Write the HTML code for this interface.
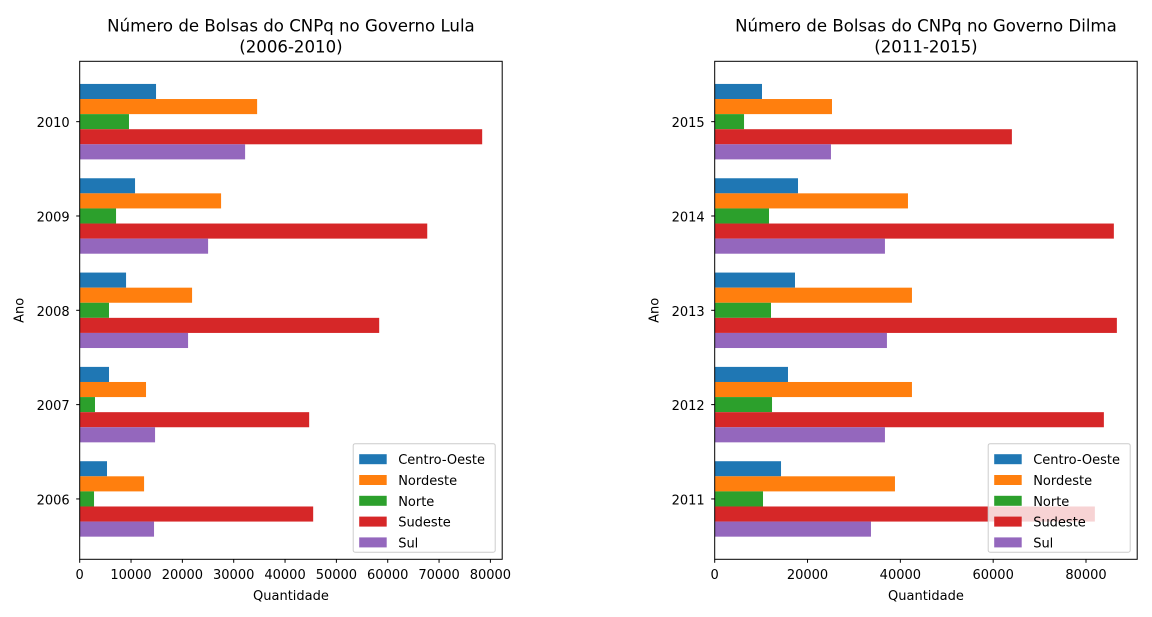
<!DOCTYPE html>
<html><head><meta charset="utf-8"><style>
body{margin:0;background:#fff}
svg{display:block;font-family:"DejaVu Sans","Liberation Sans",sans-serif}
</style></head><body>
<svg id="fig" width="1152" height="617" viewBox="0 0 1152 617"></svg>
<script>
const regions = ["Centro-Oeste","Nordeste","Norte","Sudeste","Sul"];
const colors = ["#1f77b4","#ff7f0e","#2ca02c","#d62728","#9467bd"];
const yearsLula = ["2006","2007","2008","2009","2010"];
const lulaCO = [5320,5710,9030,10780,14870];
const lulaNE = [12540,12920,21890,27540,34560];
const lulaN  = [2790,2980,5710,7080,9600];
const lulaSE = [45480,44700,58340,67700,78400];
const lulaSul= [14480,14680,21110,25010,32220];
const yearsDilma = ["2011","2012","2013","2014","2015"];
const dilmaCO = [14290,15790,17300,17950,10190];
const dilmaNE = [38840,42500,42500,41640,25270];
const dilmaN  = [10410,12350,12130,11700,6320];
const dilmaSE = [81910,83850,86650,86000,64030];
const dilmaSul= [33670,36680,37110,36680,25050];
const lulaTicks = [0,10000,20000,30000,40000,50000,60000,70000,80000];
const dilmaTicks = [0,20000,40000,60000,80000];

const NS="http://www.w3.org/2000/svg";
const svg=document.getElementById('fig');
const FS=13;
function mk(tag,attrs,parent,text){const e=document.createElementNS(NS,tag);for(const k in attrs)e.setAttribute(k,attrs[k]);if(text!==undefined)e.textContent=text;(parent||svg).appendChild(e);return e;}

function panel(opts){
  const L=opts.left,T=61.3,W=422.5,H=498,xmax=opts.xmax;
  const g=mk('g',{});
  
  
  const xs=v=>L+v/xmax*W;
  const ymin=-0.64,ymax=4.64;
  const ys=v=>T+(ymax-v)/(ymax-ymin)*H;
  const bw=0.16;
  const series=opts.series;
  for(let s=0;s<series.length;s++){
    for(let i=0;i<opts.years.length;i++){
      const c=i+(2-s)*bw;
      const r=mk('rect',{x:xs(0),y:ys(c+bw/2),width:xs(series[s][i])-xs(0),height:ys(c-bw/2)-ys(c+bw/2),fill:colors[s]},g);
      
      
    }
  }
  const fr=mk('rect',{x:L,y:T,width:W,height:H,fill:'none',stroke:'#000','stroke-width':1},g);
  
  
  opts.ticks.forEach(t=>{
    const x=xs(t);
    mk('line',{x1:x,x2:x,y1:T+H,y2:T+H+3.5,stroke:'#000'},g);
    const tl=mk('text',{x:x,y:T+H+19.5,'text-anchor':'middle','font-size':FS,fill:'#000'},g,String(t));
    
    
  });
  opts.years.forEach((yr,i)=>{
    const y=ys(i);
    mk('line',{x1:L-3.5,x2:L,y1:y,y2:y,stroke:'#000'},g);
    const tl=mk('text',{x:L-10,y:y+5.5,'text-anchor':'end','font-size':FS,fill:'#000'},g,yr);
    
    
  });
  const xt=mk('text',{x:L+W/2,y:600,'text-anchor':'middle','font-size':FS},g,'Quantidade');
  
  
  const yt=mk('text',{x:0,y:0,'text-anchor':'middle','font-size':FS,transform:`translate(${L-56},${T+H/2}) rotate(-90)`},g,'Ano');
  
  
  const t1=mk('text',{x:L+W/2,y:31.5,'text-anchor':'middle','font-size':16.6},g,opts.title1);
  
  
  const t2=mk('text',{x:L+W/2,y:52.5,'text-anchor':'middle','font-size':16.6},g,opts.title2);
  
  
  const lx=L+W-149,ly=443.7;
  const lg=mk('g',{},g);
  
  
  mk('rect',{x:lx,y:ly,width:142,height:108.5,rx:2,fill:'#fff','fill-opacity':0.8,stroke:'#ccc'},lg);
  regions.forEach((r,i)=>{
    const cy=ly+11+i*20.8;
    const e=mk('g',{},lg);
    
    
    mk('rect',{x:lx+6,y:cy-0.5,width:27.5,height:10,fill:colors[i]},e);
    mk('text',{x:lx+45,y:cy+9.5,'font-size':FS},e,r);
  });
}
panel({name:'chart-lula',left:79.7,xmax:82300,years:yearsLula,series:[lulaCO,lulaNE,lulaN,lulaSE,lulaSul],ticks:lulaTicks,title1:'Número de Bolsas do CNPq no Governo Lula',title2:'(2006-2010)'});
panel({name:'chart-dilma',left:714.7,xmax:91030,years:yearsDilma,series:[dilmaCO,dilmaNE,dilmaN,dilmaSE,dilmaSul],ticks:dilmaTicks,title1:'Número de Bolsas do CNPq no Governo Dilma',title2:'(2011-2015)'});
</script>
</body></html>
